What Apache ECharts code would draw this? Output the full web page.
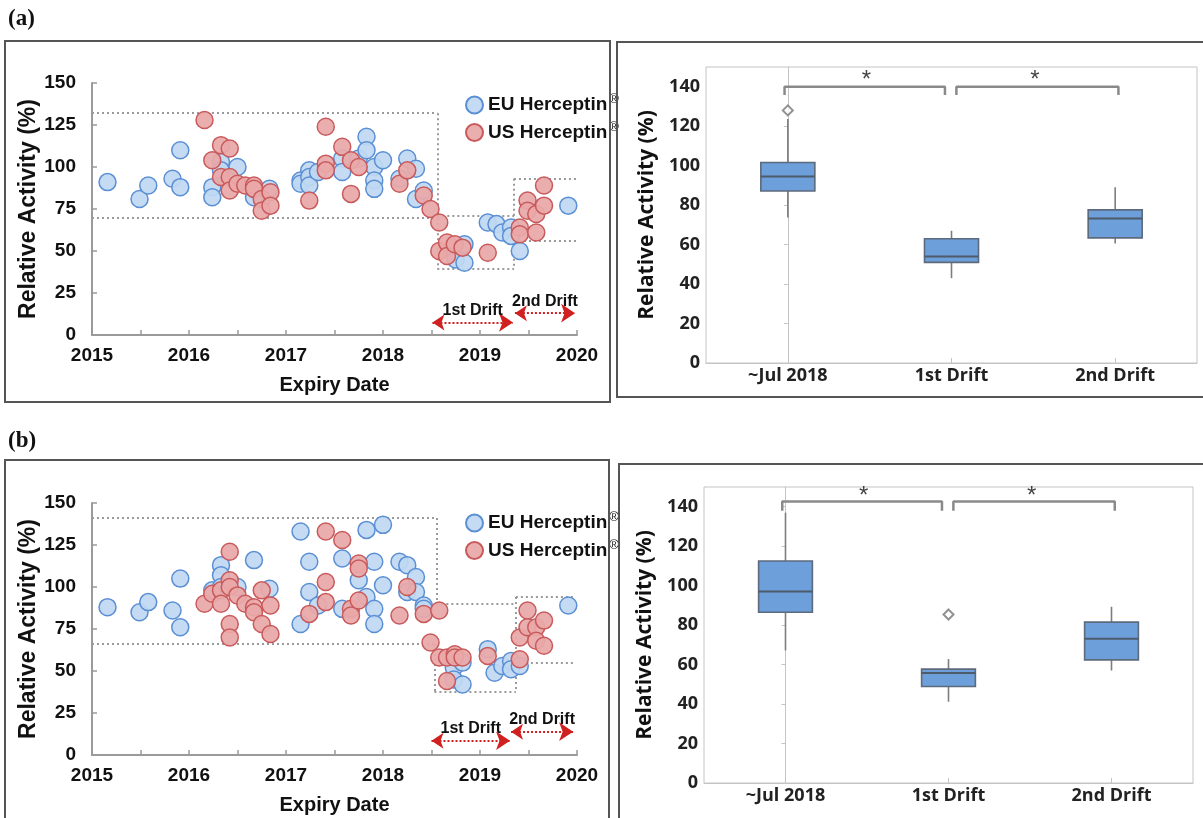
<!DOCTYPE html>
<html>
<head>
<meta charset="utf-8">
<script src="https://cdn.jsdelivr.net/npm/echarts@6/dist/echarts.min.js"></script>
<style>
html,body{margin:0;padding:0;background:#fff;}
#chart{width:1203px;height:818px;}
</style>
</head>
<body>
<div id="chart"></div>
<script>
// ---------------- DATA ----------------
const yearTicks = [2015, 2016, 2017, 2018, 2019, 2020];
const seriesNames = ['EU Herceptin', 'US Herceptin'];

// Panel (a) scatter: [expiry year, relative activity %]
const euA = [
  [2015.16,91],[2015.49,81],[2015.58,89],[2015.83,93],[2015.91,110],[2015.91,88],
  [2016.24,88],[2016.24,82],[2016.33,103],[2016.33,98],[2016.5,100],[2016.67,82],[2016.83,87],
  [2017.15,92],[2017.15,90],[2017.24,98],[2017.24,94],[2017.24,89],[2017.33,97],
  [2017.58,105],[2017.58,97],[2017.75,105],[2017.83,118],[2017.83,110],[2017.91,100],[2017.91,92],[2017.91,87],[2018.0,104],
  [2018.17,93],[2018.25,105],[2018.34,99],[2018.34,81],[2018.42,86],
  [2018.75,45],[2018.84,54],[2018.84,43],
  [2019.08,67],[2019.17,66],[2019.23,61],[2019.32,64],[2019.32,59],[2019.41,50],[2019.91,77]
];
const usA = [
  [2016.16,128],[2016.24,104],[2016.33,113],[2016.42,111],[2016.33,94],[2016.42,94],[2016.42,86],[2016.5,90],
  [2016.58,89],[2016.67,89],[2016.67,87],[2016.75,81],[2016.75,74],[2016.84,85],[2016.84,77],
  [2017.24,80],[2017.41,124],[2017.41,102],[2017.41,98],
  [2017.58,112],[2017.67,104],[2017.75,100],[2017.67,84],
  [2018.17,90],[2018.25,98],[2018.42,83],[2018.49,75],[2018.58,67],[2018.58,50],[2018.66,55],[2018.66,47],[2018.74,54],[2018.82,52],
  [2019.08,49],[2019.41,64],[2019.41,60],[2019.49,80],[2019.49,74],[2019.58,72],[2019.58,61],[2019.66,77],[2019.66,89]
];
// Panel (b) scatter
const euB = [
  [2015.16,88],[2015.49,85],[2015.58,91],[2015.83,86],[2015.91,105],[2015.91,76],
  [2016.24,98],[2016.33,113],[2016.33,107],[2016.33,100],[2016.5,100],[2016.67,116],[2016.83,99],
  [2017.15,133],[2017.15,78],[2017.24,115],[2017.24,97],[2017.33,89],
  [2017.58,117],[2017.58,87],[2017.75,104],[2017.83,134],[2017.83,94],[2017.91,115],[2017.91,87],[2017.91,78],[2018.0,137],[2018.0,101],
  [2018.17,115],[2018.25,113],[2018.25,97],[2018.34,106],[2018.34,97],[2018.42,89],[2018.42,87],
  [2018.73,52],[2018.73,45],[2018.82,55],[2018.82,42],
  [2019.08,63],[2019.15,49],[2019.23,53],[2019.32,56],[2019.32,51],[2019.41,53],[2019.91,89]
];
const usB = [
  [2016.16,90],[2016.24,96],[2016.33,98],[2016.33,90],[2016.42,121],[2016.42,104],[2016.42,100],[2016.42,78],[2016.42,70],
  [2016.5,95],[2016.58,90],[2016.67,88],[2016.67,85],[2016.75,98],[2016.75,78],[2016.84,89],[2016.84,72],
  [2017.24,84],[2017.41,133],[2017.41,103],[2017.41,91],
  [2017.58,128],[2017.67,87],[2017.67,83],[2017.75,114],[2017.75,111],[2017.75,92],
  [2018.17,83],[2018.25,100],[2018.42,84],[2018.49,67],[2018.58,86],[2018.58,58],[2018.66,58],[2018.66,44],[2018.74,60],[2018.74,58],[2018.82,58],
  [2019.08,59],[2019.41,57],[2019.41,70],[2019.49,86],[2019.49,76],[2019.58,76],[2019.58,68],[2019.66,80],[2019.66,65]
];

// Dotted region outlines (data coordinates: [year, %])
const regionLinesA = [
  [[2015,132],[2018.56,132]], [[2015,70],[2018.56,70]], [[2018.56,132],[2018.56,39.5]],
  [[2018.56,71],[2019.35,71]], [[2018.56,39.5],[2019.35,39.5]], [[2019.35,93],[2019.35,39.5]],
  [[2019.35,93],[2020,93]], [[2019.35,56],[2020,56]]
];
const regionLinesB = [
  [[2015,141],[2018.55,141]], [[2015,66],[2018.53,66]], [[2018.55,141],[2018.55,90]],
  [[2018.55,90],[2019.37,90]], [[2018.53,66],[2018.53,37.7]], [[2018.53,37.7],[2019.37,37.7]],
  [[2019.37,94],[2019.37,37.7]], [[2019.37,94],[2019.96,94]], [[2019.37,55],[2019.96,55]]
];
// Drift arrows
const driftA = [
  {name:'1st Drift', coords:[[2018.51,7.5],[2019.34,7.5]]},
  {name:'2nd Drift', coords:[[2019.36,13],[2019.98,13]]}
];
const driftB = [
  {name:'1st Drift', coords:[[2018.50,8.5],[2019.31,8.5]]},
  {name:'2nd Drift', coords:[[2019.32,13.9],[2019.96,13.9]]}
];

// Box plots: [min, Q1, median, Q3, max]
const boxCategories = ['~Jul 2018', '1st Drift', '2nd Drift'];
const boxA = [[73.7,87.2,94.5,101.6,123.6],[43,51,54,63,67],[60.5,63.4,73.2,77.6,89]];
const outliersA = [[0,128]];
const boxB = [[67.2,86.5,97,112.5,137],[41.2,48.9,55.7,57.7,62.8],[57,62.4,73.1,81.5,89.3]];
const outliersB = [[1,85.4]];
// Significance brackets (category index, %)
const bracketsA = [
  [[-0.02,135.8],[-0.02,140],[0.96,140],[0.96,135.8]],
  [[1.03,135.8],[1.03,140],[2.02,140],[2.02,135.8]]
];
const starsA = [[0.48,143],[1.51,143]];
const bracketsB = [
  [[-0.02,138],[-0.02,142.7],[0.96,142.7],[0.96,138]],
  [[1.03,138],[1.03,142.7],[2.02,142.7],[2.02,138]]
];
const starsB = [[0.48,145.5],[1.51,145.5]];

// ---------------- STYLE ----------------
const SANS = '"Liberation Sans", Arial, sans-serif';
const BOXFONT = '"Open Sans", "Noto Sans", sans-serif';
const blueFill = 'rgba(192,216,242,0.93)', blueLine = '#5b8fd4';
const redFill = 'rgba(234,168,168,0.93)', redLine = '#c85a5c';
const dotGray = '#9a9a9a';

function scatterX(grid) {
  return {
    gridIndex: grid, type: 'value', min: 2015, max: 2020, interval: 0.5,
    name: 'Expiry Date', nameLocation: 'middle', nameGap: 40,
    nameTextStyle: {fontFamily: SANS, fontWeight: 'bold', fontSize: 20, color: '#111'},
    axisLine: {show: true, lineStyle: {color: '#9a9a9a', width: 2}},
    axisTick: {show: true, inside: true, length: 5, lineStyle: {color: '#9a9a9a', width: 1.5}},
    splitLine: {show: false},
    axisLabel: {
      margin: 11, fontFamily: SANS, fontWeight: 'bold', fontSize: 19, color: '#111',
      formatter: v => (yearTicks.indexOf(v) >= 0 ? String(v) : '')
    }
  };
}
function scatterY(grid) {
  return {
    gridIndex: grid, type: 'value', min: 0, max: 150, interval: 25,
    name: 'Relative Activity (%)', nameLocation: 'middle', nameGap: 52,
    nameTextStyle: {fontFamily: SANS, fontWeight: 'bold', fontSize: 23, color: '#111'},
    axisLine: {show: true, lineStyle: {color: '#9a9a9a', width: 2}},
    axisTick: {show: true, inside: true, length: 5, lineStyle: {color: '#9a9a9a', width: 1.5}},
    splitLine: {show: false},
    axisLabel: {margin: 16, fontFamily: SANS, fontWeight: 'bold', fontSize: 19, color: '#111'}
  };
}
function boxCatX(grid) {
  return {
    gridIndex: grid, type: 'category', data: boxCategories,
    axisLine: {show: true, lineStyle: {color: '#c4c4c4', width: 1}},
    axisTick: {show: true, inside: true, alignWithLabel: true, length: 5, lineStyle: {color: '#c4c4c4'}},
    axisLabel: {margin: 4, fontFamily: BOXFONT, fontWeight: 'bold', fontSize: 18, color: '#222'},
    splitLine: {show: false}
  };
}
function boxValX(grid) {
  return {gridIndex: grid, type: 'value', min: -0.5, max: 2.5, show: false};
}
function boxY(grid) {
  return {
    gridIndex: grid, type: 'value', min: 0, max: 150, interval: 20,
    name: 'Relative Activity (%)', nameLocation: 'middle', nameGap: 48,
    nameTextStyle: {fontFamily: BOXFONT, fontWeight: 'bold', fontSize: 21, color: '#111'},
    axisLine: {show: true, lineStyle: {color: '#c4c4c4', width: 1}},
    axisTick: {show: true, inside: false, length: 4, lineStyle: {color: '#c4c4c4'}},
    axisLabel: {margin: 6, showMaxLabel: false, fontFamily: BOXFONT, fontWeight: 'bold', fontSize: 18, color: '#222'},
    splitLine: {show: false}
  };
}
function pointSeries(name, data, xi, yi, fill, line) {
  return {
    name: name, type: 'scatter', xAxisIndex: xi, yAxisIndex: yi, data: data,
    symbol: 'circle', symbolSize: 17,
    itemStyle: {color: fill, borderColor: line, borderWidth: 1.5, opacity: 1}
  };
}
function regionSeries(segs, xi, yi) {
  return {
    type: 'lines', coordinateSystem: 'cartesian2d', xAxisIndex: xi, yAxisIndex: yi, z: 1,
    symbol: 'none', silent: true,
    lineStyle: {color: dotGray, width: 2, type: [2, 3], opacity: 1},
    data: segs.map(s => ({coords: s}))
  };
}
function driftSeries(items, xi, yi) {
  return {
    type: 'lines', coordinateSystem: 'cartesian2d', xAxisIndex: xi, yAxisIndex: yi, z: 3,
    symbol: ['arrow', 'arrow'], symbolSize: [12, 14], silent: true,
    lineStyle: {color: '#d02020', width: 2, type: [2, 2], opacity: 1},
    label: {show: true, position: 'middle', distance: 4, formatter: '{b}',
      fontFamily: SANS, fontWeight: 'bold', fontSize: 16, color: '#111'},
    data: items
  };
}
// Box plot drawn with a custom series through the axes' own scales
function boxSeries(data, xi, yi) {
  return {
    type: 'custom', xAxisIndex: xi, yAxisIndex: yi,
    data: data.map((d, i) => [i].concat(d)),
    encode: {x: 0, y: [1, 2, 3, 4, 5]},
    renderItem: function (params, api) {
      const c = api.value(0);
      const band = api.size([1, 0])[0];
      const half = band * 0.165;
      const pMin = api.coord([c, api.value(1)]);
      const pQ1 = api.coord([c, api.value(2)]);
      const pMed = api.coord([c, api.value(3)]);
      const pQ3 = api.coord([c, api.value(4)]);
      const pMax = api.coord([c, api.value(5)]);
      const x = pMed[0];
      const whisk = {stroke: '#7d7d7d', lineWidth: 1.6};
      return {
        type: 'group',
        children: [
          {type: 'line', shape: {x1: x, y1: pMax[1], x2: x, y2: pQ3[1]}, style: whisk},
          {type: 'line', shape: {x1: x, y1: pQ1[1], x2: x, y2: pMin[1]}, style: whisk},
          {type: 'rect', shape: {x: x - half, y: pQ3[1], width: half * 2, height: pQ1[1] - pQ3[1]},
            style: {fill: '#6d9fdb', stroke: '#5d6a7c', lineWidth: 1.6}},
          {type: 'line', shape: {x1: x - half, y1: pMed[1], x2: x + half, y2: pMed[1]},
            style: {stroke: '#4e5b6b', lineWidth: 2}}
        ]
      };
    }
  };
}
function outlierSeries(data, xi, yi) {
  return {
    type: 'scatter', xAxisIndex: xi, yAxisIndex: yi, data: data, symbol: 'emptyDiamond', symbolSize: 10,
    itemStyle: {color: '#777', borderColor: '#777', borderWidth: 1.4}
  };
}
function bracketSeries(list, xi, yi) {
  return list.map(b => ({
    type: 'line', xAxisIndex: xi, yAxisIndex: yi, data: b, symbol: 'none', silent: true,
    lineStyle: {color: '#8a8a8a', width: 2.5}
  }));
}
function starSeries(data, xi, yi) {
  return {
    type: 'scatter', xAxisIndex: xi, yAxisIndex: yi, data: data, symbolSize: 0, silent: true,
    label: {show: true, position: 'inside', formatter: '*', fontFamily: SANS, fontSize: 24, color: '#111'}
  };
}
function legendFor(top) {
  return {
    data: seriesNames, orient: 'vertical', left: 465, top: top, itemGap: 6, padding: 0,
    itemWidth: 17, itemHeight: 17, icon: 'circle', selectedMode: false,
    formatter: n => n + '{r|®}',
    textStyle: {fontFamily: SANS, fontWeight: 'bold', fontSize: 19, color: '#111',
      rich: {r: {fontFamily: SANS, fontSize: 13, fontWeight: 'normal', color: '#111', padding: [0, 0, 11, 2]}}}
  };
}

const frames = [
  {x: 5, y: 41, w: 605, h: 361},
  {x: 617, y: 42, w: 600, h: 355},
  {x: 5, y: 460, w: 604, h: 400},
  {x: 619, y: 464, w: 600, h: 400}
];

const option = {
  animation: false,
  backgroundColor: '#fff',
  grid: [
    {left: 92, top: 83, width: 485, height: 252},
    {left: 706, top: 67, width: 491, height: 296, show: true, borderColor: '#c4c4c4', borderWidth: 1},
    {left: 92, top: 503, width: 485, height: 252},
    {left: 704, top: 487, width: 489, height: 296, show: true, borderColor: '#c4c4c4', borderWidth: 1}
  ],
  xAxis: [scatterX(0), boxCatX(1), boxValX(1), scatterX(2), boxCatX(3), boxValX(3)],
  yAxis: [scatterY(0), boxY(1), scatterY(2), boxY(3)],
  legend: [legendFor(93), legendFor(511)],
  graphic: [
    ...frames.map(f => ({type: 'rect', shape: {x: f.x, y: f.y, width: f.w, height: f.h},
      style: {fill: 'none', stroke: '#555', lineWidth: 2}, silent: true, z: 100})),
    {type: 'text', left: 8, top: 8, style: {text: '(a)', font: 'bold 23px "Liberation Serif", serif', fill: '#111'}},
    {type: 'text', left: 8, top: 430, style: {text: '(b)', font: 'bold 23px "Liberation Serif", serif', fill: '#111'}}
  ],
  series: [
    regionSeries(regionLinesA, 0, 0),
    pointSeries(seriesNames[0], euA, 0, 0, blueFill, blueLine),
    pointSeries(seriesNames[1], usA, 0, 0, redFill, redLine),
    driftSeries(driftA, 0, 0),
    boxSeries(boxA, 1, 1),
    outlierSeries(outliersA, 1, 1),
    ...bracketSeries(bracketsA, 2, 1),
    starSeries(starsA, 2, 1),
    regionSeries(regionLinesB, 3, 2),
    pointSeries(seriesNames[0], euB, 3, 2, blueFill, blueLine),
    pointSeries(seriesNames[1], usB, 3, 2, redFill, redLine),
    driftSeries(driftB, 3, 2),
    boxSeries(boxB, 4, 3),
    outlierSeries(outliersB, 4, 3),
    ...bracketSeries(bracketsB, 5, 3),
    starSeries(starsB, 5, 3)
  ]
};

const chart = echarts.init(document.getElementById('chart'), null, {renderer: 'canvas'});
chart.setOption(option);
</script>
</body>
</html>
